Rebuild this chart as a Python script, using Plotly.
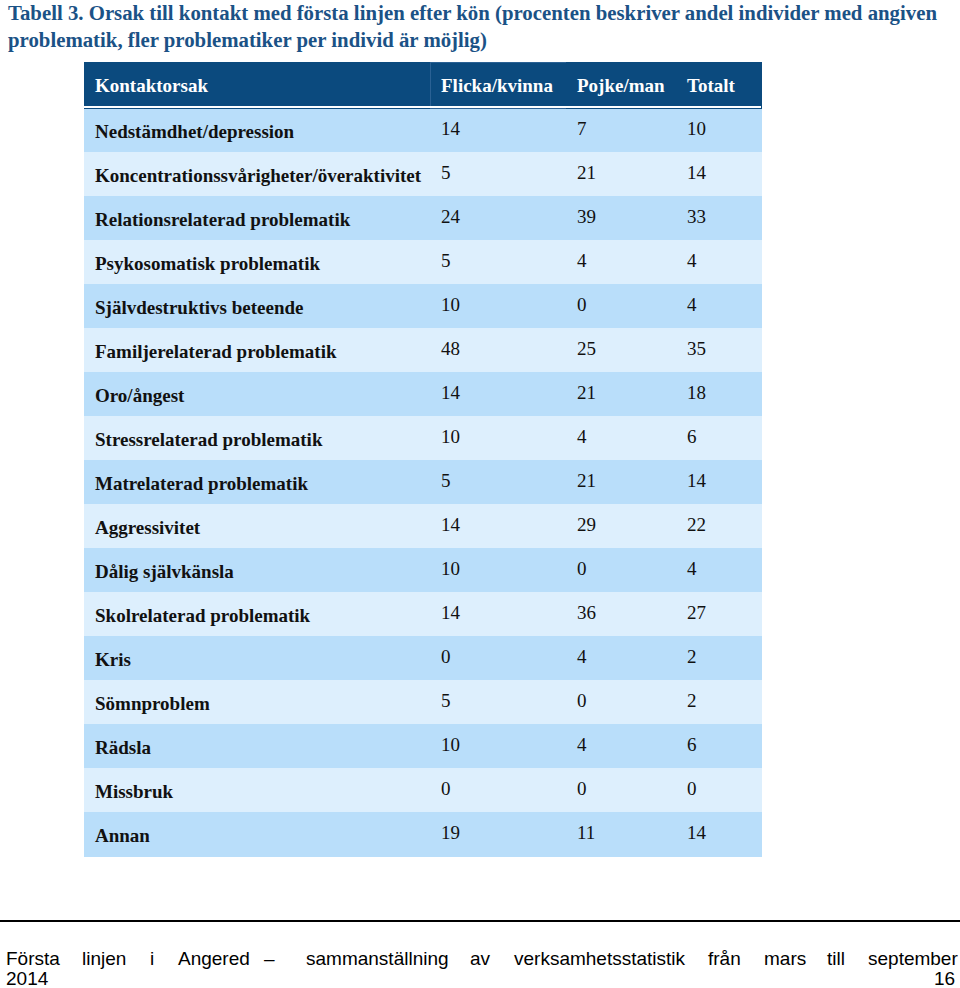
import plotly.graph_objects as go

categories = [
    "Nedstämdhet/depression",
    "Koncentrationssvårigheter/överaktivitet",
    "Relationsrelaterad problematik",
    "Psykosomatisk problematik",
    "Självdestruktivs beteende",
    "Familjerelaterad problematik",
    "Oro/ångest",
    "Stressrelaterad problematik",
    "Matrelaterad problematik",
    "Aggressivitet",
    "Dålig självkänsla",
    "Skolrelaterad problematik",
    "Kris",
    "Sömnproblem",
    "Rädsla",
    "Missbruk",
    "Annan",
]
flicka = [14, 5, 24, 5, 10, 48, 14, 10, 5, 14, 10, 14, 0, 5, 10, 0, 19]
pojke = [7, 21, 39, 4, 0, 25, 21, 4, 21, 29, 0, 36, 4, 0, 4, 0, 11]
totalt = [10, 14, 33, 4, 4, 35, 18, 6, 14, 22, 4, 27, 2, 2, 6, 0, 14]
headers = ["Kontaktorsak", "Flicka/kvinna", "Pojke/man", "Totalt"]

title_line1 = "Tabell 3. Orsak till kontakt med första linjen efter kön (procenten beskriver andel individer med angiven"
title_line2 = "problematik, fler problematiker per individ är möjlig)"
footer_words = ["Första", "linjen", "i", "Angered", "–", "sammanställning", "av",
                "verksamhetsstatistik", "från", "mars", "till", "september"]
footer_year = "2014"
page_no = "16"

W, H = 960, 988
DARK = "#0B4A7E"
SEP = "#2A6194"
ROW_A = "#B9DEFA"
ROW_B = "#DDEFFD"
TRANSP = "rgba(0,0,0,0)"
row_colors = [ROW_A if i % 2 == 0 else ROW_B for i in range(len(categories))]

serif = "Liberation Serif"
sans = "Liberation Sans"
fs = 19
HDR_H, ROW_H = 46, 44
COLW = [346, 136, 110, 85]


def py(y):
    return 1 - y / H


top = 62
bottom = top + HDR_H + ROW_H * len(categories) + 6
shift = 5
n = len(categories)

fig = go.Figure()
# background cells (fills)
fig.add_trace(go.Table(
    domain=dict(x=[84 / W, 761 / W], y=[py(bottom), py(top)]),
    columnwidth=COLW,
    header=dict(
        values=[""] * 4,
        fill_color=DARK,
        line=dict(color=[DARK, SEP, DARK, DARK], width=1),
        font=dict(family=serif, size=fs, color="white"),
        height=HDR_H,
    ),
    cells=dict(
        values=[[""] * n] * 4,
        fill_color=[row_colors] * 4,
        line=dict(color=[row_colors] * 4, width=1),
        font=dict(family=serif, size=fs),
        height=ROW_H,
    ),
))
# text cells
fig.add_trace(go.Table(
    domain=dict(x=[87 / W, 764 / W], y=[py(bottom + shift), py(top + shift)]),
    columnwidth=COLW,
    header=dict(
        values=["<b>%s</b>" % h for h in headers],
        fill_color=TRANSP,
        line=dict(color=TRANSP, width=0),
        font=dict(family=serif, size=fs, color="white"),
        align="left",
        height=HDR_H,
    ),
    cells=dict(
        values=[["<b>%s</b>" % c for c in categories],
                [str(v) for v in flicka], [str(v) for v in pojke], [str(v) for v in totalt]],
        fill_color=TRANSP,
        line=dict(color=TRANSP, width=0),
        font=dict(family=[serif] * 4, size=fs, color="#111111"),
        align="left",
        height=ROW_H,
    ),
))

ann = []
for ty, tx in ((13, title_line1), (40, title_line2)):
    ann.append(dict(x=6 / W, y=py(ty), text="<b>%s</b>" % tx, xanchor="left", yanchor="middle",
                    showarrow=False, font=dict(family=serif, size=20.8, color="#1B5286")))
word_x = [4, 80, 148, 176, 262, 304, 468, 512, 706, 762, 825, 866]
for wx, wd in zip(word_x, footer_words):
    ann.append(dict(x=wx / W, y=py(958), text=wd, xanchor="left", yanchor="middle", showarrow=False,
                    font=dict(family=sans, size=19, color="black")))
ann.append(dict(x=4 / W, y=py(978), text=footer_year, xanchor="left", yanchor="middle", showarrow=False,
                font=dict(family=sans, size=19, color="black")))
ann.append(dict(x=957 / W, y=py(978), text=page_no, xanchor="right", yanchor="middle", showarrow=False,
                font=dict(family=sans, size=19, color="black")))

fig.update_layout(
    width=W, height=H,
    margin=dict(l=0, r=0, t=0, b=0),
    paper_bgcolor="white", plot_bgcolor="white",
    annotations=ann,
    shapes=[
        dict(type="line", xref="paper", yref="paper", x0=0, x1=1, y0=py(921), y1=py(921),
             line=dict(color="black", width=2)),
        dict(type="line", xref="paper", yref="paper", x0=84 / W, x1=761 / W,
             y0=py(top + HDR_H - 1), y1=py(top + HDR_H - 1),
             line=dict(color="white", width=2), layer="above"),
    ],
)
fig.write_html("out.html", config={"displayModeBar": False},
               post_script="document.body.style.margin='0px';")
